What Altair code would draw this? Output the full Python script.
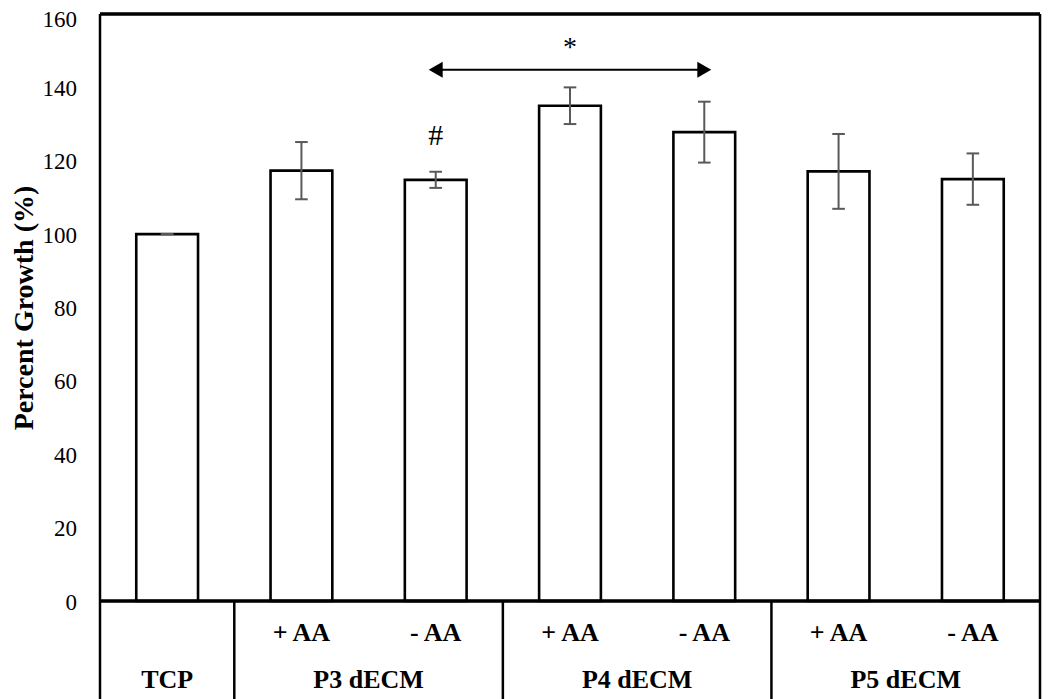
import altair as alt
import pandas as pd

categories = ["TCP", "P3 +AA", "P3 -AA", "P4 +AA", "P4 -AA", "P5 +AA", "P5 -AA"]
values = [100.0, 117.3, 114.8, 135.0, 127.8, 117.1, 115.0]
errors = [0.0, 7.8, 2.2, 5.0, 8.3, 10.2, 7.0]
sub_labels = ["", "+ AA", "- AA", "+ AA", "- AA", "+ AA", "- AA"]
groups = ["TCP", "P3 dECM", "P4 dECM", "P5 dECM"]
group_start = [0, 1, 3, 5]
group_end = [1, 3, 5, 7]
separators = [0, 1, 3, 5, 7]
y_ticks = [0, 20, 40, 60, 80, 100, 120, 140]
y_top_tick = [160]

FONT = "Liberation Serif"
W, H = 940, 587
TOP = 6

bars = pd.DataFrame({
    "cat": categories,
    "pos": [i + 0.5 for i in range(len(categories))],
    "value": values,
    "err": errors,
    "sub": sub_labels,
})
grp = pd.DataFrame({"group": groups, "start": group_start, "end": group_end})
grp["mid"] = (grp["start"] + grp["end"]) / 2
sep = pd.DataFrame({"x": separators})

xs = alt.Scale(domain=[0, 7], nice=False, zero=False)
ys = alt.Scale(domain=[0, 160], nice=False)

base = alt.Chart(bars).transform_calculate(
    left="datum.pos - 0.23", right="datum.pos + 0.23",
    lo="datum.value - datum.err", hi="datum.value + datum.err",
    cl="datum.pos - 0.047", cr="datum.pos + 0.047",
)

bar = base.mark_bar(fill="white", stroke="black", strokeWidth=2.6).encode(
    x=alt.X("left:Q", scale=xs, axis=None),
    x2="right:Q",
    y=alt.Y("value:Q", scale=ys,
            axis=alt.Axis(values=[0, 160], domain=False, ticks=False, grid=False, labels=False,
                          title="Percent Growth (%)", titleFont=FONT, titleFontSize=28,
                          titleFontWeight="bold", titleColor="black",
                          titleAngle=270, titleX=-76, titleY=H / 2,
                          titleAlign="center", titleBaseline="middle")),
    y2=alt.datum(0),
)

# plot frame (box around the plot area)
frame_top = alt.Chart(sep).mark_rule(color="black", strokeWidth=2.5).encode(
    x=alt.value(0), x2=alt.value(W), y=alt.Y("top:Q", scale=ys)
).transform_calculate(top="160")
frame_bottom = alt.Chart(sep).mark_rule(color="black", strokeWidth=2.5).encode(
    x=alt.value(0), x2=alt.value(W), y=alt.Y("bot:Q", scale=ys)
).transform_calculate(bot="0")
frame_sides = alt.Chart(sep).mark_rule(color="black", strokeWidth=2.5).encode(
    x=alt.X("x:Q", scale=xs), y=alt.value(0), y2=alt.value(H)
).transform_filter("datum.x == 0 || datum.x == 7")

# y tick labels
ylab = alt.Chart(pd.DataFrame({"v": y_ticks})).mark_text(
    font=FONT, fontSize=23, color="black", align="right", baseline="middle", dy=1.5
).encode(x=alt.value(-23), y=alt.Y("v:Q", scale=ys), text=alt.Text("v:Q"))
ylab_top = alt.Chart(pd.DataFrame({"v": y_top_tick})).mark_text(
    font=FONT, fontSize=23, color="black", align="right", baseline="middle", dy=6
).encode(x=alt.value(-23), y=alt.Y("v:Q", scale=ys), text=alt.Text("v:Q"))

errcol = "#595959"
err_v = base.mark_rule(color=errcol, strokeWidth=2).encode(
    x=alt.X("pos:Q", scale=xs), y=alt.Y("lo:Q", scale=ys), y2="hi:Q")
err_lo = base.mark_rule(color=errcol, strokeWidth=2).encode(
    x=alt.X("cl:Q", scale=xs), x2="cr:Q", y=alt.Y("lo:Q", scale=ys))
err_hi = base.mark_rule(color=errcol, strokeWidth=2).encode(
    x=alt.X("cl:Q", scale=xs), x2="cr:Q", y=alt.Y("hi:Q", scale=ys))

# significance annotations
arrow_df = pd.DataFrame({"x1": [2.50], "x2": [4.50], "y": [144.8]})
arrow_line = alt.Chart(arrow_df).mark_rule(color="black", strokeWidth=2).encode(
    x=alt.X("x1:Q", scale=xs), x2="x2:Q", y=alt.Y("y:Q", scale=ys))
heads = pd.DataFrame({"x": [2.50, 4.50], "y": [144.8, 144.8], "shape": ["triangle-left", "triangle-right"]})
arrow_heads = alt.Chart(heads).mark_point(filled=True, color="black", size=260, opacity=1).encode(
    x=alt.X("x:Q", scale=xs), y=alt.Y("y:Q", scale=ys),
    shape=alt.Shape("shape:N", scale=None))

star = pd.DataFrame({"x": [3.5], "y": [148.5], "t": ["*"]})
star_text = alt.Chart(star).mark_text(font=FONT, fontSize=28, color="black", baseline="alphabetic").encode(
    x=alt.X("x:Q", scale=xs), y=alt.Y("y:Q", scale=ys), text="t:N")
hash_df = pd.DataFrame({"x": [2.5], "y": [124.2], "t": ["#"]})
hash_text = alt.Chart(hash_df).mark_text(font=FONT, fontSize=30, color="black", baseline="alphabetic").encode(
    x=alt.X("x:Q", scale=xs), y=alt.Y("y:Q", scale=ys), text="t:N")

# category table below axis
sep_rules = alt.Chart(sep).mark_rule(color="black", strokeWidth=2.5).encode(
    x=alt.X("x:Q", scale=xs), y=alt.value(H), y2=alt.value(H + 110))
sub_text = alt.Chart(bars).mark_text(font=FONT, fontSize=26, fontWeight="bold", color="black",
                                     baseline="alphabetic").encode(
    x=alt.X("pos:Q", scale=xs), y=alt.value(640.5 - 8 - TOP), text="sub:N")
grp_text = alt.Chart(grp).mark_text(font=FONT, fontSize=26, fontWeight="bold", color="black",
                                    baseline="alphabetic").encode(
    x=alt.X("mid:Q", scale=xs), y=alt.value(688 - 8 - TOP), text="group:N")

chart = alt.layer(
    bar, frame_top, frame_bottom, frame_sides, ylab, ylab_top, err_v, err_lo, err_hi,
    arrow_line, arrow_heads, star_text, hash_text, sep_rules, sub_text, grp_text
).properties(
    width=W, height=H,
    padding={"left": 92, "top": TOP, "right": 2, "bottom": 98},
    autosize=alt.AutoSizeParams(type="none"),
).configure_view(stroke="black", strokeWidth=2.5).configure(background="white")

chart.save("out.html", embed_options={"renderer": "svg", "actions": False})
